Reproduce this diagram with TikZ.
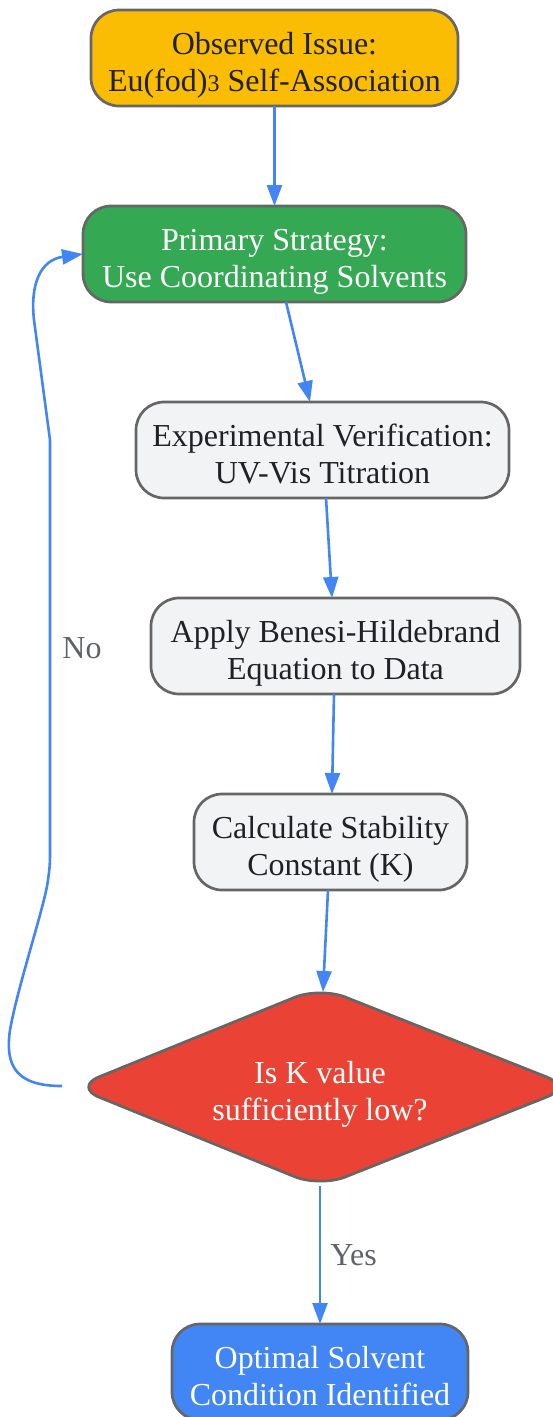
\documentclass[tikz,border=0pt]{standalone}
\usepackage{fontspec}
\setmainfont{Liberation Serif}
\usetikzlibrary{arrows.meta}
\definecolor{amber}{HTML}{FBBC04}
\definecolor{ggreen}{HTML}{34A853}
\definecolor{lgray}{HTML}{F1F3F4}
\definecolor{gred}{HTML}{EA4335}
\definecolor{gblue}{HTML}{4285F4}
\definecolor{bordc}{HTML}{666666}
\definecolor{darktext}{HTML}{202124}
\definecolor{lbltext}{HTML}{5F6368}
\newcommand\twoline[2]{\raisebox{-14pt}[0pt][0pt]{\begin{tabular}{@{}c@{}}#1\\#2\end{tabular}}}
\tikzset{
  box/.style={draw=bordc, line width=2.7pt, rounded corners=28pt, minimum height=96pt,
    align=center, inner sep=0pt, outer sep=0pt,
    font=\fontsize{32}{37}\selectfont},
  darkbox/.style={box, text=darktext},
  lightbox/.style={box, text=white},
  edge/.style={draw=gblue, line width=2.6pt, -{Triangle[length=21pt,width=15pt]}},
  lbl/.style={text=lbltext, font=\fontsize{32}{37}\selectfont, inner sep=0pt}
}
\begin{document}
\begin{tikzpicture}[x=1pt,y=-1pt]
\useasboundingbox (0,0) rectangle (552,1417);
\node[darkbox, fill=amber, minimum width=367pt] (obs) at (274.5,58)
  {\twoline{Observed Issue:}{Eu(fod){\fontsize{24}{24}\selectfont 3} Self-Association}};
\node[lightbox, fill=ggreen, minimum width=383pt] (prim) at (274.5,254)
  {\twoline{Primary Strategy:}{Use Coordinating Solvents}};
\node[darkbox, fill=lgray, minimum width=373pt] (exp) at (322.5,450)
  {\twoline{Experimental Verification:}{UV-Vis Titration}};
\node[darkbox, fill=lgray, minimum width=369pt] (ben) at (335.5,646)
  {\twoline{Apply Benesi-Hildebrand}{Equation to Data}};
\node[darkbox, fill=lgray, minimum width=273pt] (calc) at (330.5,842)
  {\twoline{Calculate Stability}{Constant (K)}};
% decision diamond
\coordinate (dtop) at (320,987);
\coordinate (dright) at (572,1087);
\coordinate (dbot) at (320,1187);
\coordinate (dleft) at (74,1087);
\draw[draw=bordc, fill=gred, line width=2.7pt, rounded corners=27pt]
  (dtop) -- (dright) -- (dbot) -- (dleft) -- cycle;
\node[text=white, align=center, inner sep=0pt, font=\fontsize{32}{37}\selectfont] (dia) at (320,1087)
  {\twoline{Is K value}{sufficiently low?}};
\node[lightbox, fill=gblue, minimum width=296pt] (opt) at (320,1372)
  {\twoline{Optimal Solvent}{Condition Identified}};

\coordinate (dtopin) at (323,992);
\coordinate (dbotout) at (320,1186);
\coordinate (noout) at (62,1086);
\draw[edge] (obs.south) -- (prim.north);
\draw[edge] ([xshift=11.5pt]prim.south) -- ([xshift=-12.5pt]exp.north);
\draw[edge] ([xshift=3.5pt]exp.south) -- ([xshift=-3.5pt]ben.north);
\draw[edge] ([xshift=-1.5pt]ben.south) -- ([xshift=1.5pt]calc.north);
\draw[edge] ([xshift=-2.5pt]calc.south) -- (dtopin);
\draw[edge] (dbotout) -- node[lbl, right=9pt, pos=0.5] (yes) {Yes} (opt.north);
\draw[edge] (noout) .. controls (15,1086) and (5,1065) .. (10,1030)
  .. controls (18,985) and (45,905) .. (48,880) .. controls (50,865) .. (50,845)
  -- (50,440) -- (34,320)
  .. controls (30,285) and (40,260) .. (prim.west);
\node[lbl] (no) at (82,648) {No};
\end{tikzpicture}
\end{document}
